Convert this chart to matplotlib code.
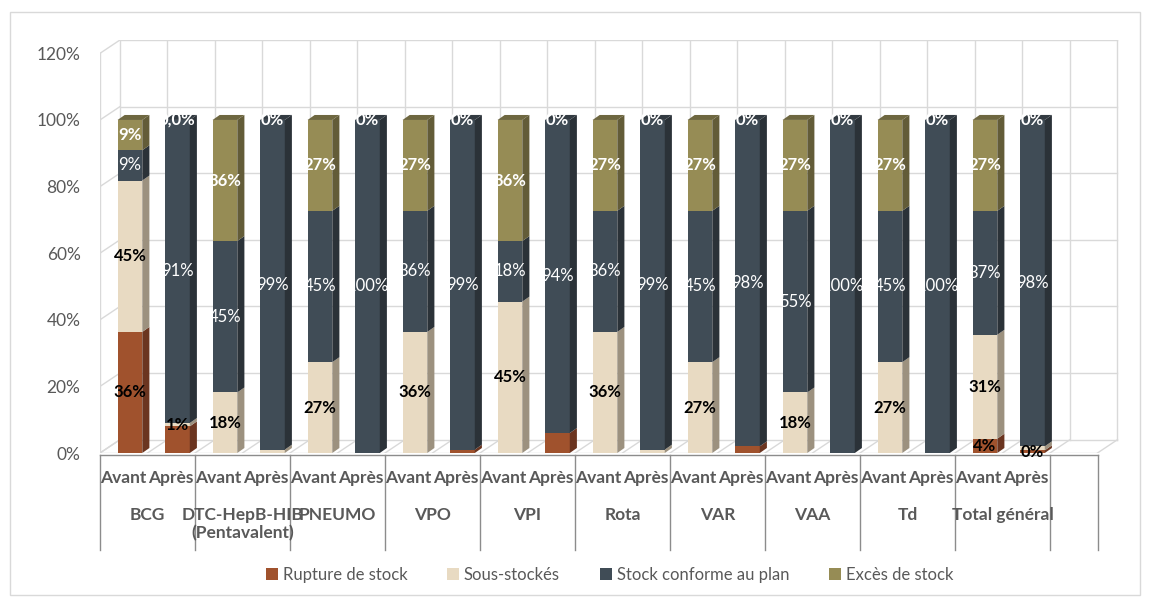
import numpy as np
import matplotlib.pyplot as plt
from matplotlib.patches import Polygon, Rectangle

plt.rcParams['font.family'] = ['Lato', 'DejaVu Sans']

vaccines = ['BCG', 'DTC-HepB-HIB\n(Pentavalent)', 'PNEUMO', 'VPO', 'VPI', 'Rota',
            'VAR', 'VAA', 'Td', 'Total général']
periods = ['Avant', 'Après']
series_names = ['Rupture de stock', 'Sous-stockés', 'Stock conforme au plan', 'Excès de stock']

# one value per bar: Avant / Après for each vaccine
rupture = [36.36, 8, 0, 0, 0, 0, 0, 1, 0, 6, 0, 0, 0, 2, 0, 0, 0, 0, 4.3, 0.8]
sous = [45.45, 1, 18.18, 1, 27.27, 0, 36.36, 0, 45.45, 0, 36.36, 1, 27.27, 0, 18.18, 0, 27.27, 0, 31.2, 1.2]
conforme = [9.09, 91, 45.45, 99, 45.45, 100, 36.36, 99, 18.18, 94, 36.36, 99, 45.45, 98, 54.55, 100,
            45.45, 100, 37.2, 98]
exces = [9.09, 0, 36.36, 0, 27.27, 0, 27.27, 0, 36.36, 0, 27.27, 0, 27.27, 0, 27.27, 0, 27.27, 0, 27.3, 0]

# data labels as they appear on the chart ('' = not shown)
rupture_lbl = ['36%', '', '', '', '', '', '', '', '', '', '', '', '', '', '', '', '', '', '4%', '0%']
sous_lbl = ['45%', '1%', '18%', '', '27%', '', '36%', '', '45%', '', '36%', '', '27%', '', '18%', '',
            '27%', '', '31%', '']
conforme_lbl = ['9%', '91%', '45%', '99%', '45%', '100%', '36%', '99%', '18%', '94%', '36%', '99%',
                '45%', '98%', '55%', '100%', '45%', '100%', '37%', '98%']
exces_lbl = ['9%', '0,0%', '36%', '0%', '27%', '0%', '27%', '0%', '36%', '0%', '27%', '0%', '27%', '0%',
             '27%', '0%', '27%', '0%', '27%', '0%']

front = ['#A0522D', '#E8DAC2', '#404C56', '#968C55']
side = ['#6B3520', '#9C917F', '#2B3238', '#635C38']
top_col = ['#7A3F22', '#B5AA95', '#333B42', '#6E6740']
lbl_col = ['black', 'black', 'white', 'white']
lbl_weight = ['bold', 'bold', 'normal', 'bold']

grid_c = '#D9D9D9'
axis_c = '#8C8C8C'
text_c = '#595959'

DX, DY = 0.42, 4.0      # wall depth offset
bdx, bdy = 0.15, 1.5    # bar depth
bw = 0.52

fig = plt.figure(figsize=(11.5, 6.03), dpi=100)
fig.patches.append(Rectangle((10 / 1150, 1 - 595 / 603), 1130 / 1150, 583 / 603,
                             transform=fig.transFigure, fill=False, ec='#D9D9D9', lw=1))
ax = fig.add_axes([100 / 1150, 1 - 453 / 603, 21.5 * 47.5 / 1150, 413 / 603])
ax.set_xlim(0, 21.5)
ax.set_ylim(0, 124)

n_slots = 21
# back wall and floor
for v in range(0, 121, 20):
    ax.plot([DX, n_slots + DX], [v + DY, v + DY], color=grid_c, lw=1, zorder=0)
    ax.plot([0, DX], [v, v + DY], color=grid_c, lw=1, zorder=0)
for k in range(n_slots + 1):
    ax.plot([k + DX, k + DX], [DY, 120 + DY], color=grid_c, lw=1, zorder=0)
    ax.plot([k, k + DX], [0, DY], color=grid_c, lw=1, zorder=0)
ax.plot([0, 0], [0, 120], color=grid_c, lw=1, zorder=0)
ax.plot([0, n_slots], [0, 0], color=grid_c, lw=1, zorder=0)

data = [rupture, sous, conforme, exces]
labels = [rupture_lbl, sous_lbl, conforme_lbl, exces_lbl]
n_bars = len(rupture)

for i in range(n_bars):
    x0 = i + 0.37
    x1 = x0 + bw
    bottom = 0
    for s in range(4):
        h = data[s][i]
        t = bottom + h
        if h > 0:
            ax.add_patch(Rectangle((x0, bottom), bw, h, fc=front[s], ec='none', zorder=2))
            ax.add_patch(Polygon([(x1, bottom), (x1 + bdx, bottom + bdy), (x1 + bdx, t + bdy), (x1, t)],
                                 fc=side[s], ec='none', zorder=2))
        bottom = t
    # top face with colour of highest non-empty segment
    top_s = max(s for s in range(4) if data[s][i] > 0)
    ax.add_patch(Polygon([(x0, bottom), (x0 + bdx, bottom + bdy), (x1 + bdx, bottom + bdy), (x1, bottom)],
                         fc=top_col[top_s], ec='none', zorder=2))
    # labels
    bottom = 0
    for s in range(4):
        h = data[s][i]
        if labels[s][i]:
            ax.text(x0 + bw / 2, bottom + h / 2, labels[s][i], ha='center', va='center',
                    color=lbl_col[s], fontsize=12, fontweight=lbl_weight[s], zorder=3)
        bottom += h

ax.set_yticks(range(0, 121, 20))
ax.set_yticklabels([f'{v}%' for v in range(0, 121, 20)], color=text_c, fontsize=12.5)
ax.tick_params(axis='y', length=0, pad=14)
ax.set_xticks([])
for sp in ax.spines.values():
    sp.set_visible(False)

# category axis below the floor
tr = ax.get_xaxis_transform()
for k in range(0, 21, 2):
    ax.plot([k, k], [-0.005, -0.235], color=axis_c, lw=1, transform=tr, clip_on=False)
ax.plot([21, 21], [-0.005, -0.235], color=axis_c, lw=1, transform=tr, clip_on=False)
ax.plot([0, 21], [-0.005, -0.005], color=axis_c, lw=1, transform=tr, clip_on=False)
for c, name in enumerate(vaccines):
    for p, per in enumerate(periods):
        ax.text(2 * c + p + 0.5, -0.061, per, transform=tr, ha='center', va='center',
                color=text_c, fontsize=12.5, fontweight='bold')
    ax.text(2 * c + 1, -0.13, name, transform=tr, ha='center', va='top',
            color=text_c, fontsize=12.5, fontweight='bold', linespacing=1.2)

handles = [Rectangle((0, 0), 1, 1, fc=front[s], ec='none') for s in range(4)]
fig.legend(handles, series_names, loc='center', bbox_to_anchor=(0.53, 1 - 575 / 603), ncol=4,
           frameon=False, handlelength=0.7, handleheight=0.7, handletextpad=0.3,
           columnspacing=2.4, fontsize=12, labelcolor=text_c)

fig.savefig('out.png', dpi=100)
